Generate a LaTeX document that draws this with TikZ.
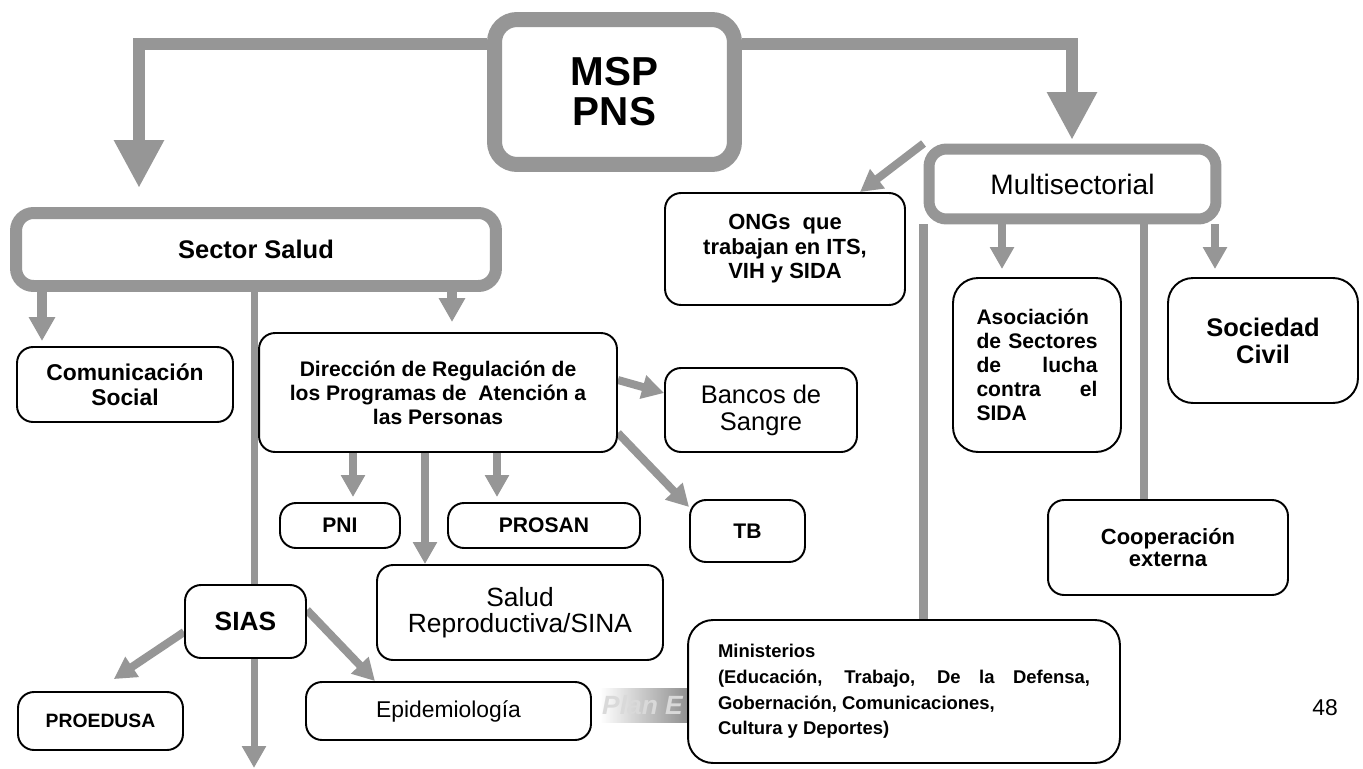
\documentclass[tikz,border=0pt]{standalone}
\usepackage{fontspec}
\setmainfont{Liberation Sans}
\usepackage{xcolor}
\usetikzlibrary{arrows.meta, backgrounds}

\definecolor{linegray}{RGB}{150,150,150}

\begin{document}
\begin{tikzpicture}[x=0.02cm, y=-0.02cm,
    box/.style={draw=black, line width=1.1pt, rounded corners=0.32cm, fill=white, align=center, inner sep=0pt},
    frame/.style={draw=linegray, rounded corners=0.35cm, fill=white, align=center, inner sep=0pt},
    bigarrow/.style={draw=linegray, line width=0.24cm, -{Triangle[length=0.96cm, width=0.94cm]}},
    midarrow/.style={draw=linegray, line width=0.2cm, -{Triangle[length=0.48cm, width=0.5cm]}},
    smallarrow/.style={draw=linegray, line width=0.16cm, -{Triangle[length=0.44cm, width=0.46cm]}},
    plainline/.style={draw=linegray, line width=0.17cm},
]
\useasboundingbox (0,0) rectangle (1363,768);

% top
\node[frame, line width=0.3cm, rounded corners=0.45cm, minimum width=4.8cm, minimum height=2.9cm,
      font=\bfseries\fontsize{23}{22.7}\selectfont] (msp) at (614.5,92) {MSP\\PNS};
\coordinate (lefttip) at (139,188);
\coordinate (righttip) at (1072,140);
\coordinate (bottomtip) at (254,768);

% sector salud
\node[frame, line width=0.24cm, minimum width=9.6cm, minimum height=1.46cm,
      font=\bfseries\fontsize{14.5}{16}\selectfont] (sector) at (256,249.5) {Sector Salud};
\node[box, minimum width=4.32cm, minimum height=1.5cm, font=\bfseries\fontsize{13}{14.2}\selectfont]
      (comsoc) at (125,384.5) {Comunicación\\Social};
\node[box, minimum width=7.16cm, minimum height=2.38cm, font=\bfseries\fontsize{12}{13.6}\selectfont]
      (direc) at (438,392.5) {Dirección de Regulación de\\los Programas de~ Atención a\\las Personas};
\node[box, minimum width=3.84cm, minimum height=1.68cm, font=\fontsize{14.5}{15.3}\selectfont]
      (bancos) at (761,410) {Bancos de\\Sangre};
\node[box, minimum width=2.4cm, minimum height=0.9cm, font=\bfseries\fontsize{12}{13}\selectfont]
      (pni) at (340,525.5) {PNI};
\node[box, minimum width=3.84cm, minimum height=0.9cm, font=\bfseries\fontsize{12}{13}\selectfont]
      (prosan) at (544,525.5) {PROSAN};
\node[box, minimum width=2.3cm, minimum height=1.24cm, font=\bfseries\fontsize{12}{13}\selectfont]
      (tb) at (747.5,531) {TB};
\node[box, minimum width=5.72cm, minimum height=1.9cm, font=\fontsize{15}{15}\selectfont]
      (salud) at (520,612.5) {Salud\\Reproductiva/SINA};
\node[box, minimum width=2.42cm, minimum height=1.46cm, font=\bfseries\fontsize{15}{16}\selectfont]
      (sias) at (245.5,621.5) {SIAS};
\node[box, minimum width=3.3cm, minimum height=1.16cm, font=\bfseries\fontsize{11}{12}\selectfont]
      (proedusa) at (100.5,721) {PROEDUSA};
\node[box, minimum width=5.7cm, minimum height=1.16cm, font=\fontsize{13}{14}\selectfont]
      (epid) at (448.5,711) {Epidemiología};

% multisectorial
\node[frame, line width=0.22cm, minimum width=5.74cm, minimum height=1.4cm,
      font=\fontsize{16}{18}\selectfont] (multi) at (1072.5,184) {Multisectorial};
\node[box, minimum width=4.8cm, minimum height=2.24cm, font=\bfseries\fontsize{12.5}{14}\selectfont]
      (ongs) at (785,249) {ONGs~ que\\trabajan en ITS,\\VIH y SIDA};
\node[box, minimum width=3.36cm, minimum height=3.48cm, text width=2.42cm, align=justify,
      rounded corners=0.5cm, font=\bfseries\fontsize{12}{13.6}\selectfont]
      (asoc) at (1037,365) {Asociación\linebreak de Sectores\linebreak de lucha\linebreak contra el\linebreak SIDA};
\node[box, minimum width=3.8cm, minimum height=2.5cm, rounded corners=0.5cm,
      font=\bfseries\fontsize{14.5}{15.3}\selectfont] (soc) at (1263,340.5) {Sociedad\\Civil};
\node[box, minimum width=4.8cm, minimum height=1.9cm, font=\bfseries\fontsize{12.5}{13}\selectfont]
      (coop) at (1168,547.5) {Cooperación\\externa};

% watermark and page number
\node[anchor=west, text=black!15, font=\bfseries\itshape\fontsize{15}{15}\selectfont]
      (planE) at (596,705) {Plan E};
\node[box, minimum width=8.64cm, minimum height=2.86cm, text width=7.44cm, align=justify,
      rounded corners=0.5cm, font=\bfseries\fontsize{10.5}{14.6}\selectfont]
      (minis) at (904,691.5) {Ministerios\\(Educación, Trabajo, De la Defensa,\linebreak Gobernación, Comunicaciones,\\Cultura y Deportes)};
\node[font=\fontsize{13}{13}\selectfont] (page) at (1325,708) {48};

\begin{scope}[on background layer]
\shade[left color=white, right color=black!45] (600,688) rectangle (690,722);
% from MSP
\draw[bigarrow] (msp.west |- 0,44) -| (lefttip);
\draw[bigarrow] (msp.east |- 0,44) -| (righttip);
% from sector salud
\draw[midarrow, shorten >=0.1cm] (sector.south -| 42,0) -- (comsoc.north -| 42,0);
\draw[midarrow, shorten >=0.2cm] (sector.south -| 452,0) -- (direc.north -| 452,0);
\draw[smallarrow, line width=0.14cm] (sector.south -| 254,0) -- (bottomtip);
% from direccion
\draw[smallarrow, shorten >=0.1cm] (direc.south -| 353,0) -- (pni.north -| 353,0);
\draw[smallarrow, shorten >=0.1cm] (direc.south -| 497,0) -- (prosan.north -| 497,0);
\draw[smallarrow] (direc.south -| 425,0) -- (salud.north -| 425,0);
\draw[smallarrow] (direc.east |- 0,380) -- (bancos.west |- 0,393);
\draw[smallarrow] (direc.east |- 0,433) -- (tb.west |- 0,507);
% from sias
\draw[smallarrow, shorten >=0.43cm] (sias.west |- 0,632) -- (proedusa.north -| 96,0);
\draw[smallarrow] (sias.east |- 0,610) -- (epid.north -| 375,0);
% from multisectorial
\draw[smallarrow] (multi.north west) -- (ongs.north -| 860,0);
\draw[plainline] (multi.south west) -- (multi.south west |- minis.north);
\draw[plainline] (multi.south -| 1144,0) -- (coop.north -| 1144,0);
\draw[smallarrow, shorten >=0.16cm] (multi.south -| 1002,0) -- (asoc.north -| 1002,0);
\draw[smallarrow, shorten >=0.16cm] (multi.south -| 1215,0) -- (soc.north -| 1215,0);
\end{scope}
\end{tikzpicture}
\end{document}
